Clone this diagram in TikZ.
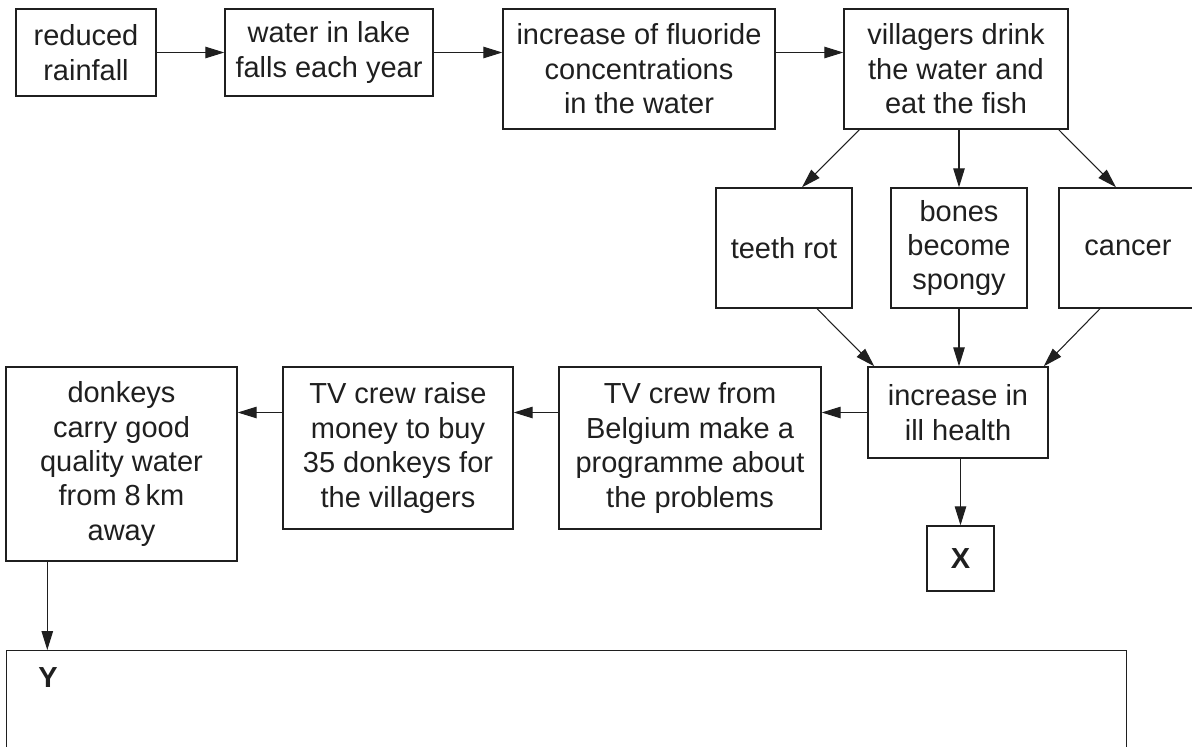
\documentclass[tikz,border=0pt]{standalone}
\usepackage{fontspec}
\setmainfont{Liberation Sans}
\usetikzlibrary{arrows.meta}

\begin{document}
\begin{tikzpicture}[
      box/.style={draw=black!88, text=black!88, line width=0.8pt, align=center, inner sep=0pt,
        font=\fontsize{16.5}{19.6}\selectfont},
      flow/.style={draw=black!88, line width=0.6pt, -{Triangle[length=3.8mm,width=2.3mm]}}]
      \useasboundingbox (0,0) rectangle (23.84,-14.92);
      % top row
      \node[name=rain, box, minimum width=2.8cm, minimum height=1.74cm] at (1.72,-1.05) {reduced\\rainfall};
      \node[name=lake, box, minimum width=4.16cm, minimum height=1.74cm] at (6.58,-1.05) {water in lake\\falls each year};
      \node[name=fluoride, box, minimum width=5.44cm, minimum height=2.4cm] at (12.78,-1.38) {increase of fluoride\\concentrations\\in the water};
      \node[name=villagers, box, minimum width=4.48cm, minimum height=2.4cm] at (19.12,-1.38) {villagers drink\\the water and\\eat the fish};
      % effects
      \node[name=teeth, box, minimum width=2.72cm, minimum height=2.4cm] at (15.68,-4.96) {teeth rot};
      \node[name=bones, box, minimum width=2.72cm, minimum height=2.4cm] at (19.18,-4.96) {bones\\become\\spongy};
      \node[name=cancer, box, minimum width=2.76cm, minimum height=2.4cm] at (22.56,-4.96) {cancer};
      \node[name=ill, box, minimum width=3.6cm, minimum height=1.82cm] at (19.16,-8.25) {increase in\\ill health};
      \node[name=X, box, minimum width=1.34cm, minimum height=1.3cm] at (19.21,-11.17) {\textbf{X}};
      % bottom row
      \node[name=belgium, box, minimum width=5.24cm, minimum height=3.24cm] at (13.8,-8.96) {TV crew from\\Belgium make a\\programme about\\the problems};
      \node[name=raise, box, minimum width=4.6cm, minimum height=3.24cm] at (7.96,-8.96) {TV crew raise\\money to buy\\35 donkeys for\\the villagers};
      \node[name=donkeys, box, minimum width=4.62cm, minimum height=3.88cm] at (2.43,-9.28) {donkeys\\carry good\\quality water\\from 8\,km\\away};
      \node[name=answer, box, minimum width=22.4cm, minimum height=3.5cm, anchor=north west] at (0.12,-13.0) {};
      \node[name=ylabel, box, draw=none] at (0.96,-13.56) {\textbf{Y}};

      \draw[flow] (rain.east) -- (lake.west);
      \draw[flow] (lake.east) -- (lake.east -| fluoride.west);
      \draw[flow] (fluoride.east |- lake.east) -- (villagers.west |- lake.east);
      \draw[flow] ([xshift=0.32cm]villagers.south west) -- ([xshift=0.36cm]teeth.north);
      \draw[flow] (villagers.south -| bones.north) -- (bones.north);
      \draw[flow] ([xshift=-0.2cm]villagers.south east) -- ([xshift=-0.24cm]cancer.north);
      \draw[flow] ([xshift=0.66cm]teeth.south) -- ([xshift=0.14cm]ill.north west);
      \draw[flow] (bones.south) -- (bones.south |- ill.north);
      \draw[flow] ([xshift=-0.56cm]cancer.south) -- ([xshift=-0.1cm]ill.north east);
      \draw[flow] (ill.south -| X.north) -- (X.north);
      \draw[flow] (ill.west) -- (ill.west -| belgium.east);
      \draw[flow] (belgium.west |- ill.west) -- (raise.east |- ill.west);
      \draw[flow] (raise.west |- ill.west) -- (donkeys.east |- ill.west);
      \draw[flow] ([xshift=0.84cm]donkeys.south west) -- ([xshift=0.84cm]donkeys.south west |- answer.north);
\end{tikzpicture}
\end{document}
